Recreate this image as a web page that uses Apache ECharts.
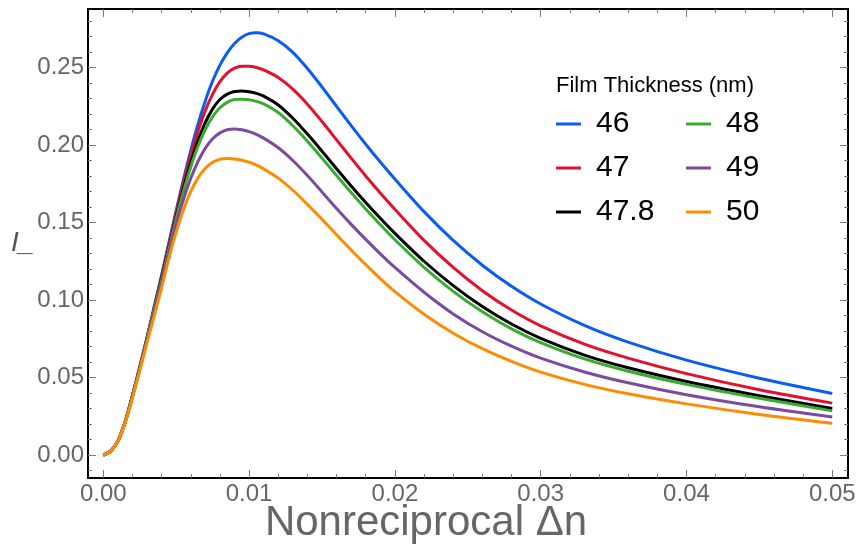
<!DOCTYPE html>
<html>
<head>
<meta charset="utf-8">
<script src="https://cdn.jsdelivr.net/npm/echarts@6/dist/echarts.min.js"></script>
<style>
html,body{margin:0;padding:0;background:#fff;}
#chart{width:859px;height:545px;}
</style>
</head>
<body>
<div id="chart"></div>
<script>
// ---- data ----
const legendTitle = 'Film Thickness (nm)';
const seriesNames = ['46', '47', '47.8', '48', '49', '50'];
const seriesColors = ['#0a5cf2', '#e3102e', '#000000', '#3aab32', '#7a4b9e', '#ff8c00'];

const xs = [0, 0.0005, 0.001, 0.0015, 0.002, 0.0025, 0.003, 0.0035, 0.004, 0.0045, 0.005, 0.0055,
  0.006, 0.0065, 0.007, 0.0075, 0.008, 0.0085, 0.009, 0.0095, 0.010, 0.0105,
  0.011, 0.012, 0.013, 0.014, 0.015, 0.016, 0.017, 0.018, 0.019, 0.020,
  0.022, 0.024, 0.026, 0.028, 0.030,
  0.033, 0.036, 0.040, 0.045, 0.050];

const y46 = [0, 0.0025, 0.009, 0.0215, 0.0385, 0.057, 0.076, 0.096, 0.116, 0.137, 0.1578, 0.1778,
  0.1965, 0.2135, 0.2285, 0.2413, 0.2515, 0.2594, 0.2655, 0.2695, 0.2718, 0.2724,
  0.2716, 0.2672, 0.2597, 0.2493, 0.2374, 0.2249, 0.2125, 0.2005, 0.189, 0.178,
  0.157, 0.1384, 0.1224, 0.1088, 0.0974,
  0.0836, 0.0728, 0.0612, 0.0495, 0.0397];

const y47 = [0, 0.0025, 0.009, 0.0215, 0.0385, 0.0565, 0.0755, 0.0955, 0.1155, 0.136, 0.1563, 0.1755,
  0.1933, 0.209, 0.2223, 0.2328, 0.2408, 0.2463, 0.2495, 0.2508, 0.2508, 0.250,
  0.2484, 0.2435, 0.236, 0.2263, 0.2151, 0.2033, 0.1915, 0.180, 0.169, 0.1585,
  0.1385, 0.121, 0.106, 0.0935, 0.0833,
  0.0715, 0.0625, 0.0525, 0.0421, 0.0335];

const y478 = [0, 0.0025, 0.009, 0.0215, 0.038, 0.056, 0.075, 0.095, 0.114, 0.134, 0.1535, 0.172,
  0.1888, 0.203, 0.2145, 0.2233, 0.2293, 0.2328, 0.2345, 0.2348, 0.2343, 0.2333,
  0.2315, 0.2258, 0.2172, 0.207, 0.196, 0.1847, 0.1736, 0.1629, 0.1527, 0.143,
  0.125, 0.1093, 0.0958, 0.0845, 0.0753,
  0.0645, 0.0563, 0.0475, 0.0383, 0.030];

const y48 = [0, 0.0025, 0.009, 0.0215, 0.038, 0.056, 0.075, 0.0945, 0.113, 0.133, 0.1523, 0.170,
  0.1858, 0.1993, 0.210, 0.2183, 0.224, 0.2275, 0.2293, 0.2295, 0.2292, 0.2281,
  0.2265, 0.2209, 0.2124, 0.2024, 0.1915, 0.1803, 0.1693, 0.1587, 0.1486, 0.1389,
  0.1211, 0.1056, 0.0924, 0.0814, 0.0725,
  0.062, 0.0541, 0.0456, 0.0366, 0.0285];

const y49 = [0, 0.0025, 0.009, 0.021, 0.0375, 0.0555, 0.074, 0.0925, 0.111, 0.1308, 0.149, 0.165,
  0.1785, 0.1895, 0.198, 0.204, 0.2078, 0.2098, 0.2103, 0.2098, 0.2086, 0.2068,
  0.2044, 0.1982, 0.190, 0.1803, 0.1697, 0.159, 0.1488, 0.1391, 0.1298, 0.121,
  0.105, 0.091, 0.0795, 0.0702, 0.0625,
  0.0536, 0.0466, 0.0389, 0.0311, 0.0246];

const y50 = [0, 0.0025, 0.0088, 0.021, 0.037, 0.0545, 0.0725, 0.090, 0.108, 0.1268, 0.1438, 0.1583,
  0.170, 0.1788, 0.185, 0.1888, 0.1908, 0.1913, 0.191, 0.1902, 0.1889, 0.187,
  0.1846, 0.1786, 0.1708, 0.1617, 0.152, 0.1421, 0.1323, 0.1228, 0.1138, 0.1054,
  0.0908, 0.0786, 0.0686, 0.0604, 0.0535,
  0.0456, 0.0395, 0.033, 0.0262, 0.0205];

const xTicks = [0, 0.01, 0.02, 0.03, 0.04, 0.05];
const yTicks = [0, 0.05, 0.10, 0.15, 0.20, 0.25];
const xTitle = 'Nonreciprocal Δn';
const yTitle = 'I_';

// ---- chart ----
const ys = [y46, y47, y478, y48, y49, y50];
const xMin = -0.00105, xMax = 0.05108;
const yMin = -0.0148, yMax = 0.2877;
const FONT = '"Liberation Sans", Arial, sans-serif';

function minorVals(lo, hi, step, majorStep) {
  const out = [];
  const start = Math.ceil(lo / step), end = Math.floor(hi / step);
  for (let i = start; i <= end; i++) {
    const v = +(i * step).toFixed(6);
    const r = v / majorStep;
    if (Math.abs(r - Math.round(r)) > 1e-6) out.push(v);
  }
  return out;
}
const xMinor = minorVals(xMin, xMax, 0.002, 0.01);
const yMinor = minorVals(yMin, yMax, 0.01, 0.05);

function mkAxis(pos, lo, hi, ticks, len, withLine, withLabels) {
  return {
    type: 'value', position: pos, min: lo, max: hi, gridIndex: 0,
    axisLine: {show: withLine, onZero: false, lineStyle: {color: '#000', width: 2}},
    axisTick: {show: true, inside: true, length: len, customValues: ticks, lineStyle: {color: '#7a7a7a', width: 1}},
    axisLabel: withLabels ? {show: true, customValues: ticks, formatter: v => v.toFixed(2), fontSize: 24, color: '#666', margin: 4, fontFamily: FONT} : {show: false},
    splitLine: {show: false}
  };
}

const series = seriesNames.map((name, i) => ({
  name: name,
  type: 'line',
  xAxisIndex: 0, yAxisIndex: 0,
  data: xs.map((x, j) => [x, ys[i][j]]),
  showSymbol: false,
  smooth: 0.3,
  lineStyle: {color: seriesColors[i], width: 3},
  itemStyle: {color: seriesColors[i]},
  silent: true,
  z: 2 + i
}));

const legendBase = {
  orient: 'vertical', icon: 'rect', itemWidth: 25, itemHeight: 3, itemGap: 14,
  selectedMode: false,
  textStyle: {fontSize: 30, color: '#000', lineHeight: 30, padding: [0, 0, 0, 10], fontFamily: FONT}
};

const chart = echarts.init(document.getElementById('chart'), null, {renderer: 'canvas'});
chart.setOption({
  animation: false,
  backgroundColor: '#fff',
  grid: {left: 88, right: 11, top: 9, bottom: 67, containLabel: false},
  xAxis: [
    mkAxis('bottom', xMin, xMax, xTicks, 8, true, true),
    mkAxis('bottom', xMin, xMax, xMinor, 4, false, false),
    mkAxis('top', xMin, xMax, xTicks, 8, true, false),
    mkAxis('top', xMin, xMax, xMinor, 4, false, false)
  ],
  yAxis: [
    mkAxis('left', yMin, yMax, yTicks, 8, true, true),
    mkAxis('left', yMin, yMax, yMinor, 4, false, false),
    mkAxis('right', yMin, yMax, yTicks, 8, true, false),
    mkAxis('right', yMin, yMax, yMinor, 4, false, false)
  ],
  legend: [
    Object.assign({}, legendBase, {data: seriesNames.slice(0, 3), left: 551, top: 104}),
    Object.assign({}, legendBase, {data: seriesNames.slice(3, 6), left: 681, top: 104})
  ],
  graphic: [
    {type: 'text', x: 556, y: 86, style: {text: legendTitle, fontSize: 22, fontFamily: FONT, fill: '#000', textAlign: 'left', textVerticalAlign: 'middle'}},
    {type: 'text', x: 426, y: 523, style: {text: xTitle, fontSize: 42, fontFamily: FONT, fill: '#666', textAlign: 'center', textVerticalAlign: 'middle'}},
    {type: 'text', x: 11, y: 243, style: {text: yTitle, fontSize: 28, fontStyle: 'italic', fontFamily: FONT, fill: '#555', textAlign: 'left', textVerticalAlign: 'middle'}}
  ],
  series: series
});
</script>
</body>
</html>
